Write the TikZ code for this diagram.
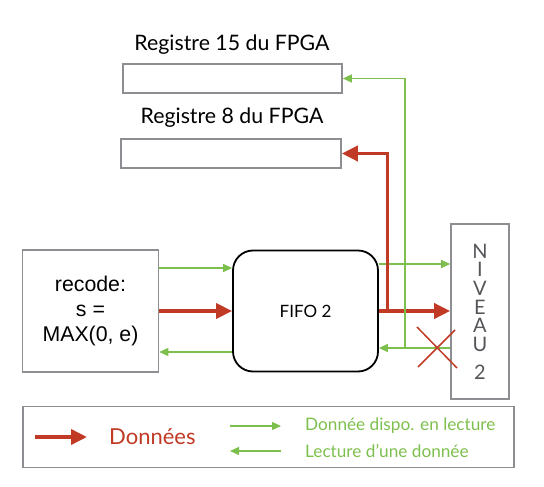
\documentclass[tikz,border=0pt]{standalone}
\usepackage{fontspec}
\setmainfont{Lato}
\newfontfamily\helv{Liberation Sans}
\usetikzlibrary{arrows.meta}
\definecolor{dred}{HTML}{C13A26}
\definecolor{lgreen}{HTML}{7DBF4D}
\definecolor{bgray}{HTML}{8E8E92}
\definecolor{tgray}{HTML}{55565A}
\tikzset{
  graybox/.style={draw=bgray, line width=1.6pt, minimum width=#1, inner sep=0pt},
  gline/.style={draw=lgreen, line width=1.4pt, -{Triangle[length=9pt,width=8pt]}},
  gplain/.style={draw=lgreen, line width=1.4pt},
  rline/.style={draw=dred, line width=3.6pt, -{Triangle[length=16pt,width=15pt]}},
  rplain/.style={draw=dred, line width=3.6pt},
  lab/.style={font=\fontsize{21.3}{23}\selectfont, inner sep=0pt},
}
\begin{document}
\begin{tikzpicture}[x=1pt,y=-1pt]
\useasboundingbox (0,0) rectangle (544,487);
% registers
\node[lab] (lab15) at (232,45) {Registre 15 du FPGA};
\node[graybox=219pt, minimum height=29pt] (reg15) at (232.5,78.5) {};
\node[lab] (lab8) at (232,118) {Registre 8 du FPGA};
\node[graybox=220pt, minimum height=29pt] (reg8) at (231,153.5) {};
% recode
\node[graybox=136pt, minimum height=122pt, align=center, font=\helv\fontsize{21.3}{25}\selectfont] (recode) at (90.5,311) {recode:\\s =\\MAX(0, e)};
% FIFO
\node[draw=black, line width=1.8pt, rounded corners=20pt, minimum width=145pt, minimum height=121pt, font=\fontsize{17}{20}\selectfont] (fifo) at (305.5,311) {FIFO 2};
% NIVEAU
\node[graybox=58pt, minimum height=175pt] (niv) at (480,311.5) {};
\node[text=tgray, align=center, font=\fontsize{20}{18.6}\selectfont, inner sep=0pt] (nivtxt) at (480,312) {N\\I\\V\\E\\A\\U\\[10pt]2};
% coordinates
\coordinate (gj) at (405,348);
\coordinate (rj) at (387.5,311);
% recode <-> fifo
\draw[gline] (recode.east |- 0,268) -- (fifo.west |- 0,268);
\draw[rline] (recode.east |- 0,311) -- (fifo.west |- 0,311);
\draw[gline] (fifo.west |- 0,352) -- (recode.east |- 0,352);
% fifo -> niveau
\draw[gline] (fifo.east |- 0,264) -- (niv.west |- 0,264);
\draw[rline] (fifo.east |- 0,311) -- (niv.west |- 0,311);
\draw[gline] (niv.west |- 0,348) -- (fifo.east |- 0,348);
% branches to registers
\draw[gline] (gj) -- (gj |- reg15.east) -- (reg15.east);
\draw[rline] (rj) -- (rj |- reg8.east) -- (reg8.east);
% red cross
\draw[dred, line width=1.5pt] (417,327) -- (457,368) (455,330) -- (418,367);
% legend
\node[graybox=491pt, minimum height=61pt] (leg) at (268.5,437) {};
\coordinate (lr1) at (35,437);
\coordinate (lr2) at (87,437);
\draw[rline] (lr1) -- (lr2);
\node[text=dred, font=\fontsize{22}{24}\selectfont, anchor=west, inner sep=0pt] (ldon) at (109,437) {Données};
\coordinate (lg1) at (230,426);
\coordinate (lg2) at (281,426);
\coordinate (lg3) at (230,451);
\coordinate (lg4) at (281,451);
\draw[gline] (lg1) -- (lg2);
\draw[gline] (lg4) -- (lg3);
\node[text=lgreen, font=\fontsize{17.2}{18}\selectfont, anchor=west, inner sep=0pt] (ldispo) at (305,426) {Donnée dispo. en lecture};
\node[text=lgreen, font=\fontsize{17.2}{18}\selectfont, anchor=west, inner sep=0pt] (llect) at (305,451) {Lecture d’une donnée};
\end{tikzpicture}
\end{document}
